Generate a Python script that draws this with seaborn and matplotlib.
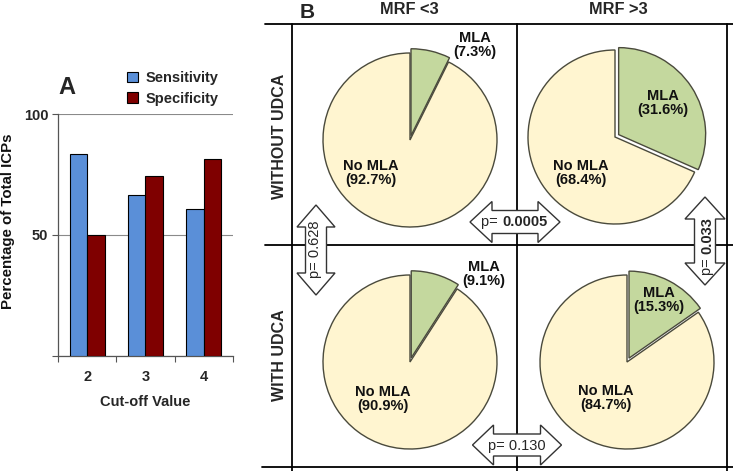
import numpy as np
import pandas as pd
import matplotlib
matplotlib.use("Agg")
import matplotlib.pyplot as plt
import seaborn as sns
from matplotlib.patches import Polygon

# ---------------- data ----------------
cutoffs = ["2", "3", "4"]
sensitivity = [83.5, 66.5, 60.7]
specificity = [50.0, 74.4, 81.4]
metrics = ["Sensitivity", "Specificity"]

col_titles = ["MRF <3", "MRF >3"]
row_titles = ["WITHOUT UDCA", "WITH UDCA"]
mla_pct = [[7.3, 31.6], [9.1, 15.3]]
no_mla_pct = [[92.7, 68.4], [90.9, 84.7]]
p_row = ["0.0005", "0.130"]      # between MRF groups, per row
p_row_bold = [True, False]
p_col = ["0.628", "0.033"]       # between UDCA groups, per column
p_col_bold = [False, True]

# ---------------- style ----------------
sns.set_theme(style="white")
plt.rcParams["font.family"] = ["Liberation Sans", "DejaVu Sans"]
plt.rcParams["font.weight"] = "bold"
plt.rcParams["axes.labelweight"] = "bold"

W, H = 733, 471
fig = plt.figure(figsize=(W / 100, H / 100), dpi=100)


def fx(x):
    return x / W


def fy(y):
    return 1 - y / H


BLUE = "#5A8FD8"
RED = "#7F0000"
YELLOW = "#FFF5D0"
GREEN = "#C4D89E"
EDGE = "#4a4a3c"

# ---------------- panel A ----------------
axA = fig.add_axes([fx(58), fy(356), (233 - 58) / W, (356 - 114) / H])
df = pd.DataFrame({
    "cutoff": cutoffs * 2,
    "metric": [metrics[0]] * 3 + [metrics[1]] * 3,
    "value": sensitivity + specificity,
})
sns.barplot(data=df, x="cutoff", y="value", hue="metric", palette=[BLUE, RED],
            saturation=1, width=0.6, edgecolor="black", linewidth=0.8, ax=axA, zorder=3)
axA.set_xlim(-0.5, 2.5)
axA.set_ylim(0, 100)
axA.set_yticks([0, 50, 100])
axA.set_yticklabels(["", "50", "100"])
axA.yaxis.grid(True, color="#8a8a8a", linewidth=0.8)
axA.set_axisbelow(True)
axA.set_xticks([-0.5, 0.5, 1.5, 2.5], minor=True)
axA.tick_params(axis="x", which="major", length=0, pad=10, labelsize=10.5)
axA.tick_params(axis="x", which="minor", length=4, width=0.8, color="#555555", direction="out", bottom=True)
axA.tick_params(axis="y", length=4, width=0.8, color="#555555", direction="out", left=True, labelsize=10.5, pad=3)
for s in ["top", "right"]:
    axA.spines[s].set_visible(False)
for s in ["left", "bottom"]:
    axA.spines[s].set_color("#555555")
    axA.spines[s].set_linewidth(0.9)
axA.set_xlabel("Cut-off Value", fontsize=10.5, fontweight="bold", labelpad=8)
axA.set_ylabel("Percentage of Total ICPs", fontsize=10.8, fontweight="bold", color="#111111")
axA.yaxis.label.set_fontweight("bold")
axA.yaxis.set_label_coords((15 - 58) / 175, (356 - 221) / 242)
leg = axA.legend(loc="upper left", bbox_to_anchor=(fx(127), fy(71)),
                 bbox_transform=fig.transFigure, frameon=False, fontsize=10.5,
                 handlelength=0.75, handleheight=0.75, handletextpad=0.5,
                 labelspacing=0.45, borderpad=0, borderaxespad=0)
for t in leg.get_texts():
    t.set_fontweight("bold")
fig.text(fx(67), fy(88), "A", fontsize=17, fontweight="bold", ha="center", va="center")

# ---------------- panel B ----------------
pie_centers = [[(410, 140), (615, 137)], [(410, 362), (627, 362)]]
R = 87
LIM = 1.12
S = 2 * R * LIM
mla_label_pos = [[(475, 45), (663, 103)], [(484, 274), (659, 300)]]
no_label_pos = [[(371, 173), (581, 173)], [(383, 399), (606, 398)]]

for i in range(2):
    for j in range(2):
        cx, cy = pie_centers[i][j]
        ax = fig.add_axes([fx(cx - S / 2), fy(cy + S / 2), S / W, S / H])
        ax.pie([mla_pct[i][j], no_mla_pct[i][j]], colors=[GREEN, YELLOW],
               startangle=90, counterclock=False, explode=[0.05, 0],
               wedgeprops=dict(edgecolor=EDGE, linewidth=1.0))
        ax.set_xlim(-LIM, LIM)
        ax.set_ylim(-LIM, LIM)
        ax.set_aspect("equal")
        ax.axis("off")
        mx, my = mla_label_pos[i][j]
        fig.text(fx(mx), fy(my), f"MLA\n({mla_pct[i][j]:.1f}%)", ha="center", va="center",
                 fontsize=10.5, fontweight="bold", linespacing=1.05, color="#111111")
        nx, ny = no_label_pos[i][j]
        fig.text(fx(nx), fy(ny), f"No MLA\n({no_mla_pct[i][j]:.1f}%)", ha="center", va="center",
                 fontsize=10.5, fontweight="bold", linespacing=1.05, color="#111111")

ov = fig.add_axes([0, 0, 1, 1], zorder=10)
ov.set_xlim(0, W)
ov.set_ylim(H, 0)
ov.axis("off")
ov.patch.set_alpha(0)

lk = dict(color="black", linewidth=1.3, zorder=1)
ov.plot([265, 733], [24, 24], **lk)
ov.plot([265, 733], [245, 245], **lk)
ov.plot([262, 733], [467, 467], **lk)
ov.plot([292, 292], [24, 471], **lk)
ov.plot([517, 517], [24, 471], **lk)
ov.plot([727, 727], [24, 471], **lk)


def darrow(cx, cy, length, head_w, shaft_w, head_l, vertical=False):
    L2, hw, sw = length / 2, head_w / 2, shaft_w / 2
    pts = [(-L2, 0), (-L2 + head_l, hw), (-L2 + head_l, sw), (L2 - head_l, sw),
           (L2 - head_l, hw), (L2, 0), (L2 - head_l, -hw), (L2 - head_l, -sw),
           (-L2 + head_l, -sw), (-L2 + head_l, -hw)]
    if vertical:
        pts = [(cx + b, cy + a) for a, b in pts]
    else:
        pts = [(cx + a, cy + b) for a, b in pts]
    ov.add_patch(Polygon(pts, closed=True, facecolor="white", edgecolor="#333333",
                         linewidth=1.0, zorder=2))


PFS = 10.5

# horizontal arrows (between columns)
darrow(515, 222, 90, 41, 23, 22)
ov.text(502, 222, "p= ", ha="right", va="center", fontsize=PFS, fontweight="normal", zorder=3)
ov.text(502, 222, p_row[0], ha="left", va="center", fontsize=PFS,
        fontweight="bold" if p_row_bold[0] else "normal", zorder=3)
darrow(517, 445, 89, 40, 22, 21)
ov.text(517, 446, "p= " + p_row[1], ha="center", va="center", fontsize=PFS,
        fontweight="bold" if p_row_bold[1] else "normal", zorder=3)
# vertical arrows (between rows)
darrow(316, 250, 90, 38, 21, 22, vertical=True)
ov.text(315, 249, "p= " + p_col[0], ha="center", va="center", rotation=90, fontsize=PFS,
        fontweight="bold" if p_col_bold[0] else "normal", zorder=3)
darrow(705, 241, 88, 40, 21, 22, vertical=True)
ov.text(707, 254, "p= ", ha="right", va="center", rotation=90, fontsize=PFS,
        fontweight="normal", zorder=3, rotation_mode="anchor")
ov.text(707, 254, p_col[1], ha="left", va="center", rotation=90, fontsize=PFS,
        fontweight="bold" if p_col_bold[1] else "normal", zorder=3, rotation_mode="anchor")

# headers
ov.text(307, 13, "B", fontsize=15, fontweight="bold", ha="center", va="center")
ov.text(409, 10, col_titles[0], fontsize=11.8, fontweight="bold", ha="center", va="center")
ov.text(618, 10, col_titles[1], fontsize=11.8, fontweight="bold", ha="center", va="center")
ov.text(280, 136, row_titles[0], fontsize=11.5, fontweight="bold", ha="center", va="center", rotation=90)
ov.text(280, 355, row_titles[1], fontsize=11.5, fontweight="bold", ha="center", va="center", rotation=90)

fig.savefig("out.png", dpi=100)
